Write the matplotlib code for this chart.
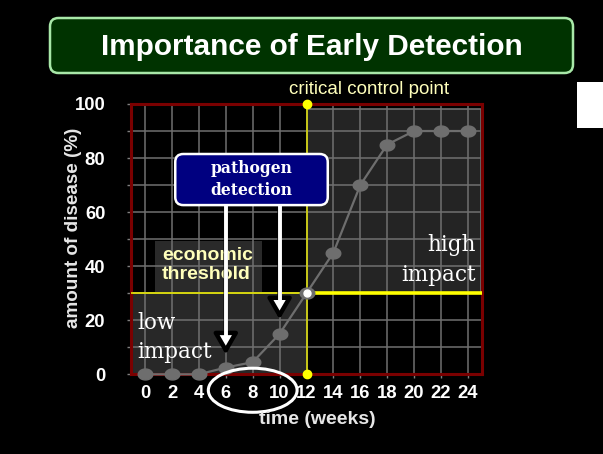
import numpy as np
import matplotlib
matplotlib.use('Agg')
import matplotlib.pyplot as plt
from matplotlib.patches import FancyBboxPatch, Rectangle, Ellipse, FancyArrowPatch
from matplotlib.path import Path

# data
weeks = [0, 2, 4, 6, 8, 10, 12, 14, 16, 18, 20, 22, 24]
disease = [0, 0, 0, 2.5, 4.5, 15, 30, 45, 70, 85, 90, 90, 90]
y_ticks = [0, 10, 20, 30, 40, 50, 60, 70, 80, 90, 100]
y_labels = ['0', '', '20', '', '40', '', '60', '', '80', '', '100']
threshold = 30          # economic threshold (% disease)
control_week = 12       # critical control point
detect_weeks = [6, 10]  # where detection happens
detect_tips = [6, 19]   # arrow tips (% disease)

SANS = 'Liberation Sans'
SERIF = 'DejaVu Serif'

fig = plt.figure(figsize=(6.03, 4.54), dpi=100, facecolor='black')

# title banner
W, H = 603, 454
banner = FancyBboxPatch((50 / W, (H - 73) / H), 523 / W, 55 / H,
                        boxstyle='round,pad=0,rounding_size=0.014',
                        mutation_aspect=W / H, transform=fig.transFigure,
                        fc='#003300', ec='#a8e8a8', lw=1.8)
fig.add_artist(banner)
fig.text(311.5 / W, (H - 47) / H, 'Importance of Early Detection', color='white',
         fontsize=21.4, fontweight='bold', family=SANS, ha='center', va='center')
fig.add_artist(Rectangle((577 / W, (H - 128) / H), 30 / W, 46 / H,
                         transform=fig.transFigure, fc='white', ec='none'))

ax = fig.add_axes([131 / W, (H - 374.3) / H, 351 / W, 270.3 / H])
ax.set_facecolor('black')
ax.set_xlim(-1.05, 25.05)
ax.set_ylim(0, 100)

# shaded zones
ax.add_patch(Rectangle((-1.05, 0), control_week + 1.05, threshold, fc='#282828',
                       ec='#707070', lw=1.2, zorder=0.3))
ax.add_patch(Rectangle((control_week, threshold), 13, 68, fc='#242424',
                       ec='#707070', lw=1.2, zorder=0.3))
ax.add_patch(Rectangle((0.74, threshold), 7.95, 19.5, fc='#2a2a2a', ec='none',
                       zorder=0.3))

ax.set_axisbelow(True)
ax.set_xticks(weeks)
ax.set_yticks(y_ticks)
ax.set_yticklabels(y_labels)
ax.grid(True, color='#707070', lw=1.1)
ax.tick_params(colors='#808080', length=3, width=1)
ax.tick_params(axis='x', pad=4.5)
ax.tick_params(axis='y', pad=15.5)
for lab in ax.get_xticklabels() + ax.get_yticklabels():
    lab.set_color('white')
    lab.set_fontsize(13.3)
    lab.set_fontweight('bold')
    lab.set_family(SANS)
for s in ax.spines.values():
    s.set_color('#7a0000')
    s.set_linewidth(2.2)

# yellow threshold / control lines
ax.plot([-1.05, control_week], [threshold, threshold], color='#e8e800', lw=1.2, zorder=3)
ax.plot([control_week, 25.05], [threshold, threshold], color='#ffff00', lw=2.6, zorder=3)
ax.plot([control_week, control_week], [0, 100], color='#e0e000', lw=1.1, zorder=3)

# disease curve with squashed round markers
t = np.linspace(0, 2 * np.pi, 41)
oval = Path(np.column_stack([np.cos(t), 0.75 * np.sin(t)]), closed=True)
ax.plot(weeks, disease, color='#6e6e6e', lw=1.6, marker=oval, ms=10.5,
        mfc='#6e6e6e', mec='#6e6e6e', zorder=4, clip_on=False)

ax.plot([control_week, control_week], [0, 100], ls='none', marker='o', ms=6,
        color='#ffff00', zorder=5, clip_on=False)
ax.plot([control_week], [threshold], ls='none', marker='o', ms=5, mfc='white',
        mec='white', zorder=5)

# text labels
ax.text(1.26, 40.5, 'economic\nthreshold', color='#ffffbb', fontsize=14,
        fontweight='bold', family=SANS, va='center', ha='left', zorder=5)
ax.text(-0.6, 13.6, 'low\nimpact', color='white', fontsize=15.5, family=SERIF,
        va='center', ha='left', linespacing=1.45, zorder=5)
ax.text(24.6, 42.4, 'high\nimpact', color='white', fontsize=15.5, family=SERIF,
        va='center', ha='right', multialignment='right', linespacing=1.45, zorder=5)
ax.text(22.6, 105.2, 'critical control point', color='#ffffbb', fontsize=13.5,
        family=SANS, ha='right', va='center', clip_on=False)

# pathogen detection box and arrows
box_x0, box_x1, box_y0, box_y1 = 2.24, 13.58, 62.6, 81.5
ax.add_patch(FancyBboxPatch((box_x0, box_y0), box_x1 - box_x0, box_y1 - box_y0,
                            boxstyle='round,pad=0,rounding_size=0.6',
                            mutation_aspect=4.96, fc='#000080', ec='white',
                            lw=1.8, zorder=7))
ax.text((box_x0 + box_x1) / 2, 72, 'pathogen\ndetection', color='white',
        fontsize=11.2, fontweight='bold', family=SERIF, ha='center', va='center',
        linespacing=1.35, zorder=8)
for wk, tip in zip(detect_weeks, detect_tips):
    # white head with a heavy black rim, white shaft laid over the rim
    ax.add_patch(FancyArrowPatch((wk, box_y0), (wk, tip + 1.3),
                                 arrowstyle='-|>,head_length=0.62,head_width=0.36',
                                 mutation_scale=20, fc='white', ec='black', lw=3.2,
                                 shrinkA=0, shrinkB=0, zorder=6))
    ax.plot([wk, wk], [box_y0, tip + 7.5], color='white', lw=2.8,
            solid_capstyle='butt', zorder=6.5)

# ellipse around the detection window
ax.add_patch(Ellipse((8, -5.9), 6.6, 16.3, fill=False, ec='white', lw=2.2,
                     clip_on=False, zorder=9))

fig.text(73 / W, (H - 227.5) / H, 'amount of disease (%)', color='#e6e6e6',
         fontsize=13.6, fontweight='bold', family=SANS, rotation=90,
         ha='center', va='center')
fig.text(317 / W, (H - 420) / H, 'time (weeks)', color='#e6e6e6', fontsize=14,
         fontweight='bold', family=SANS, ha='center', va='center')

fig.savefig('out.png', dpi=100, facecolor='black')
